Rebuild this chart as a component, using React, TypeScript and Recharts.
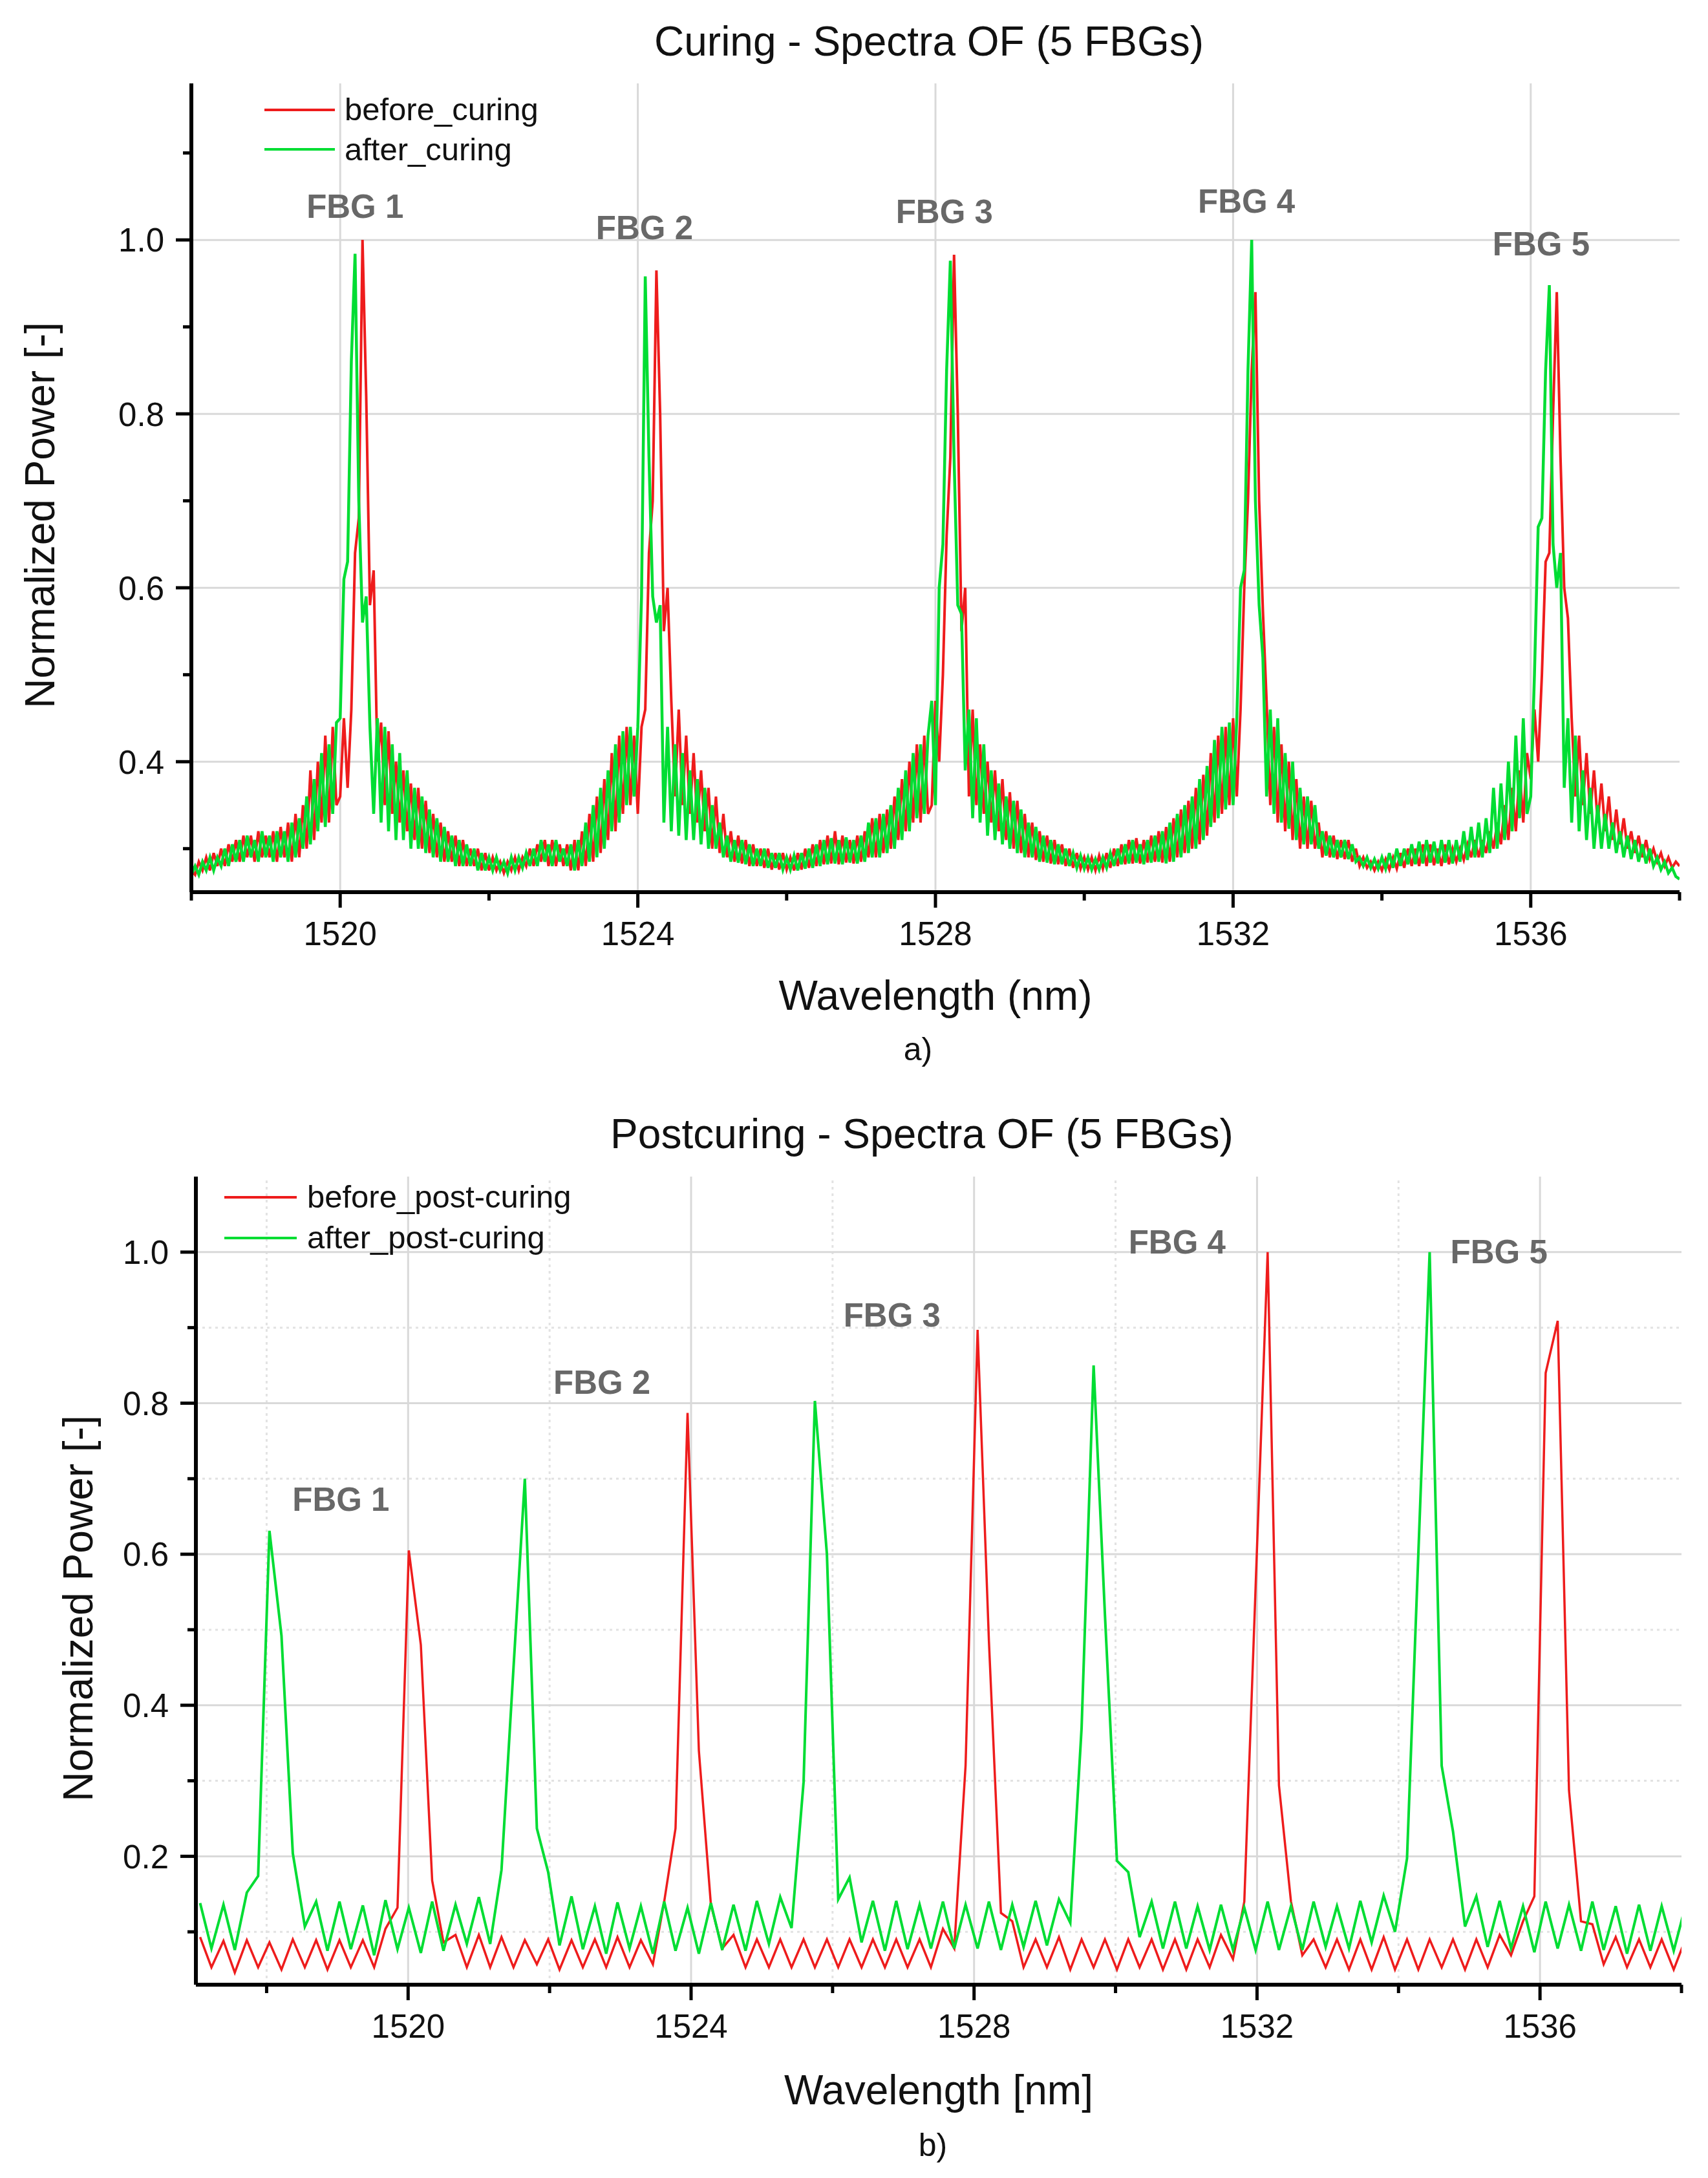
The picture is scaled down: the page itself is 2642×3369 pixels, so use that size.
import React from 'react';
import { LineChart, Line, XAxis, YAxis, ReferenceLine, ReferenceDot } from 'recharts';

const FONT = '"Liberation Sans", Arial, sans-serif';
const RED = '#ee1c1c';
const GREEN = '#00dd33';
const GRID = '#d9d9d9';

// ---------- a) Curing ----------
const curingWavelength = [
  1518, 1518.05, 1518.1, 1518.15, 1518.2, 1518.25, 1518.3, 1518.35, 1518.4, 1518.45, 1518.5, 1518.55, 1518.6, 1518.65, 1518.7, 1518.75, 1518.8, 1518.85, 1518.9, 1518.95,
  1519, 1519.05, 1519.1, 1519.15, 1519.2, 1519.25, 1519.3, 1519.35, 1519.4, 1519.45, 1519.5, 1519.55, 1519.6, 1519.65, 1519.7, 1519.75, 1519.8, 1519.85, 1519.9, 1519.95,
  1520, 1520.05, 1520.1, 1520.15, 1520.2, 1520.25, 1520.3, 1520.35, 1520.4, 1520.45, 1520.5, 1520.55, 1520.6, 1520.65, 1520.7, 1520.75, 1520.8, 1520.85, 1520.9, 1520.95,
  1521, 1521.05, 1521.1, 1521.15, 1521.2, 1521.25, 1521.3, 1521.35, 1521.4, 1521.45, 1521.5, 1521.55, 1521.6, 1521.65, 1521.7, 1521.75, 1521.8, 1521.85, 1521.9, 1521.95,
  1522, 1522.05, 1522.1, 1522.15, 1522.2, 1522.25, 1522.3, 1522.35, 1522.4, 1522.45, 1522.5, 1522.55, 1522.6, 1522.65, 1522.7, 1522.75, 1522.8, 1522.85, 1522.9, 1522.95,
  1523, 1523.05, 1523.1, 1523.15, 1523.2, 1523.25, 1523.3, 1523.35, 1523.4, 1523.45, 1523.5, 1523.55, 1523.6, 1523.65, 1523.7, 1523.75, 1523.8, 1523.85, 1523.9, 1523.95,
  1524, 1524.05, 1524.1, 1524.15, 1524.2, 1524.25, 1524.3, 1524.35, 1524.4, 1524.45, 1524.5, 1524.55, 1524.6, 1524.65, 1524.7, 1524.75, 1524.8, 1524.85, 1524.9, 1524.95,
  1525, 1525.05, 1525.1, 1525.15, 1525.2, 1525.25, 1525.3, 1525.35, 1525.4, 1525.45, 1525.5, 1525.55, 1525.6, 1525.65, 1525.7, 1525.75, 1525.8, 1525.85, 1525.9, 1525.95,
  1526, 1526.05, 1526.1, 1526.15, 1526.2, 1526.25, 1526.3, 1526.35, 1526.4, 1526.45, 1526.5, 1526.55, 1526.6, 1526.65, 1526.7, 1526.75, 1526.8, 1526.85, 1526.9, 1526.95,
  1527, 1527.05, 1527.1, 1527.15, 1527.2, 1527.25, 1527.3, 1527.35, 1527.4, 1527.45, 1527.5, 1527.55, 1527.6, 1527.65, 1527.7, 1527.75, 1527.8, 1527.85, 1527.9, 1527.95,
  1528, 1528.05, 1528.1, 1528.15, 1528.2, 1528.25, 1528.3, 1528.35, 1528.4, 1528.45, 1528.5, 1528.55, 1528.6, 1528.65, 1528.7, 1528.75, 1528.8, 1528.85, 1528.9, 1528.95,
  1529, 1529.05, 1529.1, 1529.15, 1529.2, 1529.25, 1529.3, 1529.35, 1529.4, 1529.45, 1529.5, 1529.55, 1529.6, 1529.65, 1529.7, 1529.75, 1529.8, 1529.85, 1529.9, 1529.95,
  1530, 1530.05, 1530.1, 1530.15, 1530.2, 1530.25, 1530.3, 1530.35, 1530.4, 1530.45, 1530.5, 1530.55, 1530.6, 1530.65, 1530.7, 1530.75, 1530.8, 1530.85, 1530.9, 1530.95,
  1531, 1531.05, 1531.1, 1531.15, 1531.2, 1531.25, 1531.3, 1531.35, 1531.4, 1531.45, 1531.5, 1531.55, 1531.6, 1531.65, 1531.7, 1531.75, 1531.8, 1531.85, 1531.9, 1531.95,
  1532, 1532.05, 1532.1, 1532.15, 1532.2, 1532.25, 1532.3, 1532.35, 1532.4, 1532.45, 1532.5, 1532.55, 1532.6, 1532.65, 1532.7, 1532.75, 1532.8, 1532.85, 1532.9, 1532.95,
  1533, 1533.05, 1533.1, 1533.15, 1533.2, 1533.25, 1533.3, 1533.35, 1533.4, 1533.45, 1533.5, 1533.55, 1533.6, 1533.65, 1533.7, 1533.75, 1533.8, 1533.85, 1533.9, 1533.95,
  1534, 1534.05, 1534.1, 1534.15, 1534.2, 1534.25, 1534.3, 1534.35, 1534.4, 1534.45, 1534.5, 1534.55, 1534.6, 1534.65, 1534.7, 1534.75, 1534.8, 1534.85, 1534.9, 1534.95,
  1535, 1535.05, 1535.1, 1535.15, 1535.2, 1535.25, 1535.3, 1535.35, 1535.4, 1535.45, 1535.5, 1535.55, 1535.6, 1535.65, 1535.7, 1535.75, 1535.8, 1535.85, 1535.9, 1535.95,
  1536, 1536.05, 1536.1, 1536.15, 1536.2, 1536.25, 1536.3, 1536.35, 1536.4, 1536.45, 1536.5, 1536.55, 1536.6, 1536.65, 1536.7, 1536.75, 1536.8, 1536.85, 1536.9, 1536.95,
  1537, 1537.05, 1537.1, 1537.15, 1537.2, 1537.25, 1537.3, 1537.35, 1537.4, 1537.45, 1537.5, 1537.55, 1537.6, 1537.65, 1537.7, 1537.75, 1537.8, 1537.85, 1537.9, 1537.95,
  1538,
];

const beforeCuring = [
  0.275, 0.27, 0.285, 0.275, 0.29, 0.275, 0.295, 0.28, 0.3, 0.28, 0.305, 0.285, 0.31, 0.285, 0.315, 0.29, 0.315, 0.285, 0.32, 0.29,
  0.315, 0.29, 0.32, 0.285, 0.325, 0.29, 0.33, 0.285, 0.34, 0.29, 0.35, 0.3, 0.39, 0.31, 0.4, 0.33, 0.43, 0.33, 0.44, 0.35,
  0.36, 0.45, 0.37, 0.46, 0.64, 0.68, 1.0, 0.82, 0.58, 0.62, 0.4, 0.445, 0.35, 0.435, 0.34, 0.4, 0.33, 0.39, 0.32, 0.375,
  0.31, 0.37, 0.3, 0.355, 0.295, 0.34, 0.29, 0.33, 0.285, 0.32, 0.285, 0.315, 0.28, 0.31, 0.28, 0.3, 0.28, 0.3, 0.275, 0.295,
  0.275, 0.29, 0.275, 0.285, 0.272, 0.285, 0.275, 0.29, 0.275, 0.29, 0.28, 0.3, 0.28, 0.305, 0.285, 0.31, 0.28, 0.31, 0.28, 0.305,
  0.28, 0.305, 0.275, 0.31, 0.275, 0.32, 0.28, 0.34, 0.285, 0.36, 0.295, 0.38, 0.31, 0.41, 0.32, 0.43, 0.34, 0.44, 0.35, 0.43,
  0.34, 0.44, 0.46, 0.64, 0.7, 0.965, 0.8, 0.55, 0.6, 0.47, 0.36, 0.46, 0.35, 0.43, 0.34, 0.41, 0.33, 0.39, 0.32, 0.37,
  0.3, 0.36, 0.295, 0.34, 0.29, 0.32, 0.285, 0.315, 0.283, 0.31, 0.28, 0.305, 0.28, 0.3, 0.278, 0.3, 0.276, 0.295, 0.276, 0.295,
  0.276, 0.29, 0.275, 0.295, 0.276, 0.3, 0.278, 0.305, 0.28, 0.31, 0.282, 0.315, 0.283, 0.32, 0.282, 0.315, 0.284, 0.31, 0.283, 0.315,
  0.285, 0.32, 0.29, 0.335, 0.29, 0.34, 0.295, 0.345, 0.3, 0.36, 0.31, 0.38, 0.32, 0.4, 0.33, 0.42, 0.33, 0.43, 0.34, 0.35,
  0.47, 0.4, 0.5, 0.66, 0.75, 0.983, 0.8, 0.55, 0.6, 0.36, 0.46, 0.35, 0.42, 0.34, 0.4, 0.33, 0.39, 0.32, 0.38, 0.31,
  0.365, 0.3, 0.355, 0.295, 0.34, 0.29, 0.33, 0.287, 0.32, 0.285, 0.315, 0.283, 0.31, 0.282, 0.305, 0.28, 0.3, 0.278, 0.295, 0.277,
  0.29, 0.276, 0.29, 0.275, 0.292, 0.277, 0.295, 0.278, 0.3, 0.28, 0.305, 0.282, 0.31, 0.283, 0.312, 0.283, 0.31, 0.284, 0.315, 0.285,
  0.32, 0.284, 0.325, 0.285, 0.335, 0.29, 0.345, 0.295, 0.355, 0.3, 0.37, 0.305, 0.385, 0.315, 0.41, 0.33, 0.43, 0.34, 0.44, 0.35,
  0.45, 0.36, 0.46, 0.6, 0.7, 0.85, 0.94, 0.7, 0.575, 0.47, 0.35, 0.44, 0.33, 0.42, 0.32, 0.4, 0.31, 0.38, 0.3, 0.36,
  0.3, 0.355, 0.3, 0.33, 0.29, 0.32, 0.29, 0.315, 0.288, 0.31, 0.288, 0.31, 0.285, 0.3, 0.28, 0.29, 0.278, 0.285, 0.275, 0.285,
  0.275, 0.288, 0.276, 0.29, 0.277, 0.295, 0.278, 0.3, 0.28, 0.3, 0.28, 0.305, 0.28, 0.305, 0.281, 0.3, 0.28, 0.305, 0.282, 0.3,
  0.285, 0.3, 0.287, 0.305, 0.29, 0.31, 0.29, 0.31, 0.295, 0.32, 0.3, 0.33, 0.305, 0.35, 0.31, 0.37, 0.32, 0.39, 0.33, 0.41,
  0.38, 0.46, 0.4, 0.5, 0.63, 0.64, 0.8, 0.94, 0.75, 0.6, 0.565, 0.45, 0.36, 0.43, 0.35, 0.41, 0.34, 0.39, 0.33, 0.375,
  0.32, 0.36, 0.31, 0.345, 0.305, 0.335, 0.3, 0.32, 0.295, 0.315, 0.29, 0.31, 0.288, 0.3, 0.285, 0.295, 0.28, 0.29, 0.278, 0.285,
  0.28,
];

const afterCuring = [
  0.27, 0.28, 0.27, 0.285, 0.275, 0.29, 0.275, 0.29, 0.28, 0.3, 0.28, 0.305, 0.285, 0.31, 0.285, 0.315, 0.29, 0.31, 0.285, 0.32,
  0.29, 0.315, 0.285, 0.32, 0.29, 0.32, 0.285, 0.33, 0.29, 0.335, 0.3, 0.36, 0.305, 0.38, 0.32, 0.41, 0.325, 0.42, 0.34, 0.445,
  0.45, 0.61, 0.63, 0.86, 0.984, 0.7, 0.56, 0.59, 0.44, 0.34, 0.45, 0.33, 0.44, 0.32, 0.42, 0.31, 0.41, 0.31, 0.39, 0.3,
  0.37, 0.3, 0.36, 0.295, 0.345, 0.29, 0.335, 0.285, 0.325, 0.285, 0.315, 0.28, 0.31, 0.28, 0.305, 0.28, 0.3, 0.275, 0.295, 0.275,
  0.29, 0.275, 0.29, 0.275, 0.285, 0.272, 0.29, 0.275, 0.29, 0.278, 0.295, 0.28, 0.3, 0.28, 0.31, 0.285, 0.305, 0.28, 0.31, 0.285,
  0.3, 0.28, 0.305, 0.275, 0.31, 0.28, 0.33, 0.285, 0.35, 0.29, 0.37, 0.3, 0.39, 0.32, 0.42, 0.33, 0.435, 0.35, 0.44, 0.36,
  0.44, 0.59, 0.958, 0.75, 0.59, 0.56, 0.58, 0.33, 0.44, 0.32, 0.42, 0.315, 0.41, 0.31, 0.39, 0.31, 0.38, 0.305, 0.37, 0.3,
  0.35, 0.3, 0.33, 0.29, 0.315, 0.285, 0.31, 0.284, 0.31, 0.282, 0.305, 0.28, 0.3, 0.28, 0.3, 0.278, 0.295, 0.278, 0.295, 0.276,
  0.29, 0.276, 0.292, 0.275, 0.295, 0.277, 0.3, 0.278, 0.305, 0.28, 0.31, 0.282, 0.312, 0.283, 0.31, 0.282, 0.313, 0.284, 0.31, 0.283,
  0.315, 0.285, 0.33, 0.29, 0.335, 0.29, 0.34, 0.295, 0.35, 0.3, 0.37, 0.31, 0.39, 0.32, 0.41, 0.335, 0.42, 0.34, 0.43, 0.47,
  0.35, 0.6, 0.65, 0.85, 0.976, 0.75, 0.58, 0.57, 0.39, 0.46, 0.335, 0.45, 0.33, 0.42, 0.315, 0.39, 0.31, 0.375, 0.305, 0.36,
  0.3, 0.355, 0.295, 0.345, 0.29, 0.33, 0.29, 0.325, 0.285, 0.315, 0.284, 0.31, 0.282, 0.305, 0.282, 0.3, 0.28, 0.295, 0.278, 0.292,
  0.277, 0.29, 0.276, 0.288, 0.276, 0.29, 0.278, 0.295, 0.28, 0.3, 0.282, 0.305, 0.283, 0.31, 0.284, 0.305, 0.282, 0.31, 0.284, 0.315,
  0.285, 0.32, 0.283, 0.33, 0.285, 0.34, 0.29, 0.35, 0.295, 0.36, 0.3, 0.38, 0.31, 0.395, 0.325, 0.425, 0.335, 0.44, 0.345, 0.445,
  0.35, 0.45, 0.6, 0.62, 0.85, 1.0, 0.7, 0.58, 0.52, 0.36, 0.46, 0.34, 0.45, 0.33, 0.41, 0.323, 0.4, 0.31, 0.37, 0.305,
  0.36, 0.305, 0.35, 0.3, 0.32, 0.292, 0.315, 0.29, 0.31, 0.29, 0.31, 0.288, 0.305, 0.285, 0.29, 0.28, 0.29, 0.278, 0.288, 0.277,
  0.29, 0.277, 0.295, 0.278, 0.3, 0.28, 0.3, 0.282, 0.305, 0.282, 0.308, 0.283, 0.31, 0.284, 0.308, 0.283, 0.31, 0.284, 0.31, 0.283,
  0.31, 0.285, 0.32, 0.287, 0.325, 0.29, 0.33, 0.29, 0.335, 0.295, 0.37, 0.3, 0.375, 0.31, 0.4, 0.32, 0.43, 0.335, 0.45, 0.34,
  0.36, 0.5, 0.67, 0.68, 0.85, 0.948, 0.65, 0.6, 0.64, 0.37, 0.45, 0.33, 0.43, 0.32, 0.39, 0.31, 0.37, 0.3, 0.35, 0.3,
  0.34, 0.3, 0.33, 0.295, 0.32, 0.29, 0.315, 0.288, 0.31, 0.285, 0.305, 0.283, 0.3, 0.28, 0.29, 0.276, 0.285, 0.272, 0.278, 0.268,
  0.265,
];

const curingXTicks = [1518, 1520, 1522, 1524, 1526, 1528, 1530, 1532, 1534, 1536, 1538];
const curingXLabels = [1520, 1524, 1528, 1532, 1536];
const curingYTicks = [0.3, 0.4, 0.5, 0.6, 0.7, 0.8, 0.9, 1.0, 1.1];
const curingYLabels = [0.4, 0.6, 0.8, 1.0];
const curingFbgX = [1520.2, 1524.09, 1528.12, 1532.18, 1536.14];
const curingFbgY = [1.039, 1.014, 1.033, 1.045, 0.996];

// ---------- b) Post-curing ----------
const postWavelength = [
  1517.06, 1517.22, 1517.39, 1517.55, 1517.72, 1517.88, 1518.04, 1518.21, 1518.37, 1518.54,
  1518.7, 1518.86, 1519.03, 1519.19, 1519.36, 1519.52, 1519.68, 1519.85, 1520.01, 1520.18,
  1520.34, 1520.5, 1520.67, 1520.83, 1521.0, 1521.16, 1521.32, 1521.49, 1521.65, 1521.82,
  1521.98, 1522.14, 1522.31, 1522.47, 1522.64, 1522.8, 1522.96, 1523.13, 1523.29, 1523.46,
  1523.62, 1523.78, 1523.95, 1524.11, 1524.28, 1524.44, 1524.6, 1524.77, 1524.93, 1525.1,
  1525.26, 1525.42, 1525.59, 1525.75, 1525.92, 1526.08, 1526.24, 1526.41, 1526.57, 1526.74,
  1526.9, 1527.06, 1527.23, 1527.39, 1527.56, 1527.72, 1527.88, 1528.05, 1528.21, 1528.38,
  1528.54, 1528.7, 1528.87, 1529.03, 1529.2, 1529.36, 1529.52, 1529.69, 1529.85, 1530.02,
  1530.18, 1530.34, 1530.51, 1530.67, 1530.84, 1531.0, 1531.16, 1531.33, 1531.49, 1531.66,
  1531.82, 1531.98, 1532.15, 1532.31, 1532.48, 1532.64, 1532.8, 1532.97, 1533.13, 1533.3,
  1533.46, 1533.62, 1533.79, 1533.95, 1534.12, 1534.28, 1534.44, 1534.61, 1534.77, 1534.94,
  1535.1, 1535.26, 1535.43, 1535.59, 1535.76, 1535.92, 1536.08, 1536.25, 1536.41, 1536.58,
  1536.74, 1536.9, 1537.07, 1537.23, 1537.4, 1537.56, 1537.72, 1537.89, 1538.05,
];

const beforePost = [
  0.093, 0.053, 0.088, 0.046, 0.089, 0.053, 0.086, 0.05, 0.09, 0.053,
  0.089, 0.05, 0.089, 0.053, 0.089, 0.053, 0.104, 0.132, 0.605, 0.48,
  0.168, 0.086, 0.096, 0.053, 0.096, 0.053, 0.093, 0.053, 0.089, 0.057,
  0.09, 0.05, 0.089, 0.053, 0.09, 0.053, 0.093, 0.053, 0.089, 0.057,
  0.14, 0.237, 0.787, 0.34, 0.136, 0.078, 0.096, 0.053, 0.09, 0.053,
  0.09, 0.053, 0.09, 0.053, 0.09, 0.053, 0.09, 0.053, 0.09, 0.053,
  0.09, 0.053, 0.09, 0.053, 0.104, 0.078, 0.32, 0.897, 0.485, 0.125,
  0.114, 0.053, 0.09, 0.053, 0.093, 0.05, 0.09, 0.053, 0.09, 0.05,
  0.09, 0.053, 0.09, 0.05, 0.09, 0.05, 0.09, 0.053, 0.096, 0.064,
  0.14, 0.557, 1.0, 0.294, 0.14, 0.069, 0.09, 0.053, 0.09, 0.05,
  0.09, 0.05, 0.093, 0.05, 0.09, 0.05, 0.09, 0.053, 0.09, 0.05,
  0.09, 0.053, 0.096, 0.069, 0.114, 0.147, 0.84, 0.909, 0.287, 0.114,
  0.11, 0.057, 0.093, 0.053, 0.09, 0.053, 0.09, 0.05, 0.089,
];

const afterPost = [
  0.138, 0.078, 0.136, 0.076, 0.152, 0.174, 0.631, 0.492, 0.204, 0.107,
  0.14, 0.075, 0.14, 0.077, 0.135, 0.069, 0.142, 0.077, 0.132, 0.072,
  0.14, 0.075, 0.136, 0.084, 0.146, 0.084, 0.182, 0.45, 0.7, 0.237,
  0.179, 0.082, 0.147, 0.077, 0.134, 0.071, 0.139, 0.078, 0.134, 0.071,
  0.14, 0.075, 0.132, 0.071, 0.138, 0.076, 0.136, 0.075, 0.141, 0.084,
  0.146, 0.105, 0.298, 0.803, 0.6, 0.143, 0.172, 0.086, 0.141, 0.075,
  0.141, 0.077, 0.136, 0.078, 0.14, 0.078, 0.136, 0.078, 0.14, 0.076,
  0.136, 0.08, 0.141, 0.082, 0.143, 0.112, 0.37, 0.85, 0.52, 0.194,
  0.179, 0.093, 0.14, 0.078, 0.14, 0.078, 0.134, 0.076, 0.136, 0.076,
  0.132, 0.076, 0.14, 0.076, 0.134, 0.076, 0.14, 0.08, 0.134, 0.078,
  0.141, 0.086, 0.148, 0.1, 0.197, 0.6, 1.0, 0.32, 0.233, 0.107,
  0.147, 0.08, 0.141, 0.078, 0.134, 0.073, 0.14, 0.078, 0.136, 0.075,
  0.14, 0.076, 0.134, 0.071, 0.136, 0.075, 0.134, 0.075, 0.132,
];

const postXTicks = [1518, 1520, 1522, 1524, 1526, 1528, 1530, 1532, 1534, 1536, 1538];
const postXLabels = [1520, 1524, 1528, 1532, 1536];
const postXMinorGrid = [1518, 1522, 1526, 1530, 1534];
const postYTicks = [0.1, 0.2, 0.3, 0.4, 0.5, 0.6, 0.7, 0.8, 0.9, 1.0];
const postYLabels = [0.2, 0.4, 0.6, 0.8, 1.0];
const postYMinorGrid = [0.1, 0.3, 0.5, 0.7, 0.9];
const postFbgX = [1519.05, 1522.74, 1526.84, 1530.87, 1535.42];
const postFbgY = [0.673, 0.828, 0.917, 1.014, 1.001];

const fbgNames = ['FBG 1', 'FBG 2', 'FBG 3', 'FBG 4', 'FBG 5'];

const curingData = curingWavelength.map((wl, i) => ({ wl, before: beforeCuring[i], after: afterCuring[i] }));
const postData = postWavelength.map((wl, i) => ({ wl, before: beforePost[i], after: afterPost[i] }));

const makeXTick = (labels: number[]) => (props: any) => {
  const { x, y, payload } = props;
  const major = labels.includes(payload.value);
  return (
    <g>
      <line x1={x} y1={y} x2={x} y2={y + (major ? 24 : 13)} stroke="#000" strokeWidth={5} />
      {major && (
        <text x={x} y={y + 82} textAnchor="middle" fontSize={51} fontFamily={FONT} fill="#111">
          {payload.value}
        </text>
      )}
    </g>
  );
};

const makeYTick = (labels: number[]) => (props: any) => {
  const { x, y, payload } = props;
  const major = labels.includes(payload.value);
  return (
    <g>
      <line x1={x} y1={y} x2={x - (major ? 24 : 13)} y2={y} stroke="#000" strokeWidth={5} />
      {major && (
        <text x={x - 42} y={y} dy="0.36em" textAnchor="end" fontSize={51} fontFamily={FONT} fill="#111">
          {payload.value.toFixed(1)}
        </text>
      )}
    </g>
  );
};

const axisLine = { stroke: '#000', strokeWidth: 6 };

const fbgLabel = (name: string) => ({
  value: name,
  position: 'center' as const,
  fill: '#686868',
  fontSize: 51,
  fontWeight: 'bold',
  fontFamily: FONT,
});

function CuringChart() {
  return (
    <LineChart width={2642} height={1500} data={curingData} margin={{ top: 129, right: 44, left: 0, bottom: 0 }}>
      {curingXLabels.map((v) => (
        <ReferenceLine key={'gx' + v} x={v} stroke={GRID} strokeWidth={3} />
      ))}
      {curingYLabels.map((v) => (
        <ReferenceLine key={'gy' + v} y={v} stroke={GRID} strokeWidth={3} />
      ))}
      <XAxis
        dataKey="wl"
        type="number"
        domain={[1518, 1538]}
        allowDataOverflow
        ticks={curingXTicks}
        interval={0}
        tickSize={0}
        tickMargin={0}
        tickLine={false}
        tick={makeXTick(curingXLabels)}
        axisLine={axisLine}
        height={120}
      />
      <XAxis xAxisId="frame" orientation="top" type="number" domain={[1518, 1538]} allowDataOverflow tick={false} tickLine={false} axisLine={axisLine} height={0} />
      <YAxis
        type="number"
        domain={[0.25, 1.18]}
        allowDataOverflow
        ticks={curingYTicks}
        interval={0}
        tickSize={0}
        tickMargin={0}
        tickLine={false}
        tick={makeYTick(curingYLabels)}
        axisLine={axisLine}
        width={296}
      />
      <YAxis yAxisId="frame" orientation="right" type="number" domain={[0.25, 1.18]} allowDataOverflow tick={false} tickLine={false} axisLine={axisLine} width={0} />
      <Line type="linear" dataKey="before" stroke={RED} strokeWidth={4} dot={false} activeDot={false} isAnimationActive={false} />
      <Line type="linear" dataKey="after" stroke={GREEN} strokeWidth={4.5} dot={false} activeDot={false} isAnimationActive={false} />
      {fbgNames.map((name, i) => (
        <ReferenceDot key={name} x={curingFbgX[i]} y={curingFbgY[i]} r={0} fill="none" stroke="none" ifOverflow="visible" label={fbgLabel(name)} />
      ))}
    </LineChart>
  );
}

function PostCuringChart() {
  return (
    <LineChart width={2642} height={1500} data={postData} margin={{ top: 120, right: 41, left: 0, bottom: 0 }}>
      {postXMinorGrid.map((v) => (
        <ReferenceLine key={'mx' + v} x={v} stroke="#e2e2e2" strokeWidth={3} strokeDasharray="4 6" />
      ))}
      {postYMinorGrid.map((v) => (
        <ReferenceLine key={'my' + v} y={v} stroke="#e2e2e2" strokeWidth={3} strokeDasharray="4 6" />
      ))}
      {postXLabels.map((v) => (
        <ReferenceLine key={'gx' + v} x={v} stroke={GRID} strokeWidth={3} />
      ))}
      {postYLabels.map((v) => (
        <ReferenceLine key={'gy' + v} y={v} stroke={GRID} strokeWidth={3} />
      ))}
      <XAxis
        dataKey="wl"
        type="number"
        domain={[1517, 1538]}
        allowDataOverflow
        ticks={postXTicks}
        interval={0}
        tickSize={0}
        tickMargin={0}
        tickLine={false}
        tick={makeXTick(postXLabels)}
        axisLine={axisLine}
        height={130}
      />
      <XAxis xAxisId="frame" orientation="top" type="number" domain={[1517, 1538]} allowDataOverflow tick={false} tickLine={false} axisLine={axisLine} height={0} />
      <YAxis
        type="number"
        domain={[0.03, 1.1]}
        allowDataOverflow
        ticks={postYTicks}
        interval={0}
        tickSize={0}
        tickMargin={0}
        tickLine={false}
        tick={makeYTick(postYLabels)}
        axisLine={axisLine}
        width={303}
      />
      <YAxis yAxisId="frame" orientation="right" type="number" domain={[0.03, 1.1]} allowDataOverflow tick={false} tickLine={false} axisLine={axisLine} width={0} />
      <Line type="linear" dataKey="before" stroke={RED} strokeWidth={3.5} dot={false} activeDot={false} isAnimationActive={false} />
      <Line type="linear" dataKey="after" stroke={GREEN} strokeWidth={4} dot={false} activeDot={false} isAnimationActive={false} />
      {fbgNames.map((name, i) => (
        <ReferenceDot key={name} x={postFbgX[i]} y={postFbgY[i]} r={0} fill="none" stroke="none" ifOverflow="visible" label={fbgLabel(name)} />
      ))}
    </LineChart>
  );
}

const txt = { fontFamily: FONT, fill: '#111' };

export default function App() {
  return (
    <div style={{ position: 'absolute', left: 0, top: 0, width: 2642, height: 3369, background: '#fff', overflow: 'hidden' }}>
      <div style={{ position: 'absolute', left: 0, top: 0 }}>
        <CuringChart />
      </div>
      <div style={{ position: 'absolute', left: 0, top: 1700 }}>
        <PostCuringChart />
      </div>
      <svg width={2642} height={3369} style={{ position: 'absolute', left: 0, top: 0, pointerEvents: 'none' }}>
        {/* a) */}
        <text x={1437} y={86} textAnchor="middle" fontSize={64} {...txt}>Curing - Spectra OF (5 FBGs)</text>
        <line x1={409} y1={170} x2={518} y2={170} stroke={RED} strokeWidth={4} />
        <line x1={409} y1={231} x2={518} y2={231} stroke={GREEN} strokeWidth={4} />
        <text x={533} y={186} fontSize={49} {...txt}>before_curing</text>
        <text x={533} y={248} fontSize={49} {...txt}>after_curing</text>
        <text x={84} y={797} textAnchor="middle" fontSize={64} transform="rotate(-90 84 797)" {...txt}>Normalized Power [-]</text>
        <text x={1447} y={1562} textAnchor="middle" fontSize={64} {...txt}>Wavelength (nm)</text>
        <text x={1420} y={1640} textAnchor="middle" fontSize={50} {...txt}>a)</text>
        {/* b) */}
        <text x={1426} y={1776} textAnchor="middle" fontSize={64} {...txt}>Postcuring - Spectra OF (5 FBGs)</text>
        <line x1={347} y1={1852} x2={459} y2={1852} stroke={RED} strokeWidth={4} />
        <line x1={347} y1={1915} x2={459} y2={1915} stroke={GREEN} strokeWidth={4} />
        <text x={475} y={1868} fontSize={49} {...txt}>before_post-curing</text>
        <text x={475} y={1931} fontSize={49} {...txt}>after_post-curing</text>
        <text x={143} y={2488} textAnchor="middle" fontSize={64} transform="rotate(-90 143 2488)" {...txt}>Normalized Power [-]</text>
        <text x={1452} y={3255} textAnchor="middle" fontSize={64} {...txt}>Wavelength [nm]</text>
        <text x={1443} y={3335} textAnchor="middle" fontSize={50} {...txt}>b)</text>
      </svg>
    </div>
  );
}
